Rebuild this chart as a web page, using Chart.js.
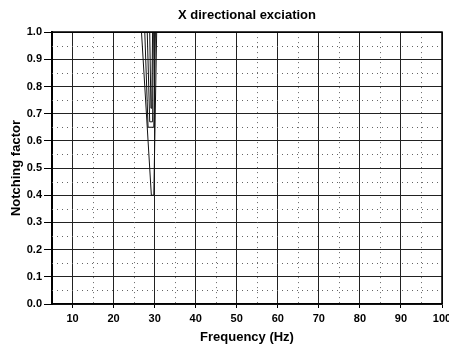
<!DOCTYPE html>
<html>
<head>
<meta charset="utf-8">
<script src="https://cdn.jsdelivr.net/npm/chart.js@4/dist/chart.umd.min.js"></script>
<style>
    html, body { margin: 0; padding: 0; background: #fff; }
    #wrap { width: 449px; height: 350px; }
</style>
</head>
<body>
<div id="wrap"><canvas id="notchChart"></canvas></div>
<script>
// Notch curves (frequency in Hz, notching factor)
const freqA = [5, 26.8, 29.2, 29.8, 30.5, 100];
const notchA = [1.0, 1.0, 0.40, 0.40, 1.0, 1.0];
const freqB = [5, 27.6, 28.4, 29.8, 30.2, 100];
const notchB = [1.0, 1.0, 0.65, 0.65, 1.0, 1.0];
const freqC = [5, 28.2, 28.8, 29.5, 29.7, 100];
const notchC = [1.0, 1.0, 0.67, 0.67, 1.0, 1.0];
const freqD = [5, 28.8, 29.1, 29.3, 29.5, 100];
const notchD = [1.0, 1.0, 0.72, 0.72, 1.0, 1.0];

const xTicks = [10, 20, 30, 40, 50, 60, 70, 80, 90, 100];
const yTicks = [0, 0.1, 0.2, 0.3, 0.4, 0.5, 0.6, 0.7, 0.8, 0.9, 1.0];
const xMinor = [15, 25, 35, 45, 55, 65, 75, 85, 95];
const yMinor = [0.05, 0.15, 0.25, 0.35, 0.45, 0.55, 0.65, 0.75, 0.85, 0.95];

function toPoints(xs, ys) {
    return xs.map((x, i) => ({ x: x, y: ys[i] }));
}

function curve(xs, ys) {
    return {
        data: toPoints(xs, ys),
        borderColor: '#111',
        borderWidth: 1,
        pointRadius: 0,
        fill: false,
        tension: 0
    };
}

// dotted minor grid and the box round the plot
const frameGrid = {
    id: 'frameGrid',
    beforeDatasetsDraw(chart) {
        const ctx = chart.ctx;
        const area = chart.chartArea;
        const xs = chart.scales.x, ys = chart.scales.y;
        ctx.save();
        ctx.strokeStyle = '#666';
        ctx.lineWidth = 1;
        ctx.setLineDash([1, 4]);
        xMinor.forEach(v => {
            const px = Math.round(xs.getPixelForValue(v)) + 0.5;
            ctx.beginPath();
            ctx.moveTo(px, area.top);
            ctx.lineTo(px, area.bottom);
            ctx.stroke();
        });
        yMinor.forEach(v => {
            const py = Math.round(ys.getPixelForValue(v)) + 0.5;
            ctx.beginPath();
            ctx.moveTo(area.left, py);
            ctx.lineTo(area.right, py);
            ctx.stroke();
        });
        ctx.restore();
    },
    afterDraw(chart) {
        const ctx = chart.ctx;
        const area = chart.chartArea;
        ctx.save();
        ctx.strokeStyle = '#000';
        ctx.lineWidth = 1.5;
        ctx.beginPath();
        ctx.moveTo(area.left, area.top);
        ctx.lineTo(area.right, area.top);
        ctx.lineTo(area.right, area.bottom);
        ctx.stroke();
        ctx.restore();
    }
};

const tickFont = { family: 'Liberation Sans', size: 11, weight: 'bold' };
const titleFont = { family: 'Liberation Sans', size: 13, weight: 'bold' };

new Chart(document.getElementById('notchChart'), {
    type: 'line',
    data: {
        datasets: [
            curve(freqA, notchA),
            curve(freqB, notchB),
            curve(freqC, notchC),
            curve(freqD, notchD)
        ]
    },
    options: {
        responsive: true,
        maintainAspectRatio: false,
        animation: false,
        layout: { padding: { right: 7 } },
        plugins: {
            legend: { display: false },
            tooltip: { enabled: false },
            title: {
                display: true,
                text: 'X directional exciation',
                color: '#000',
                font: titleFont,
                fullSize: false,
                padding: { top: 8, bottom: 8.5 }
            }
        },
        scales: {
            x: {
                type: 'linear',
                min: 5,
                max: 100,
                afterBuildTicks: scale => {
                    scale.ticks = xTicks.map(v => ({ value: v }));
                },
                afterFit: scale => {
                    scale.height = 46;
                    scale.paddingLeft = 0;
                    scale.paddingRight = 0;
                },
                ticks: {
                    color: '#000',
                    font: tickFont,
                    padding: 4,
                    maxRotation: 0,
                    autoSkip: false
                },
                grid: {
                    color: '#222',
                    lineWidth: 1,
                    tickLength: 4,
                    tickColor: '#000'
                },
                border: { color: '#000', width: 1.5 },
                title: {
                    display: true,
                    text: 'Frequency (Hz)',
                    color: '#000',
                    font: titleFont,
                    padding: { top: 0, bottom: 5 }
                }
            },
            y: {
                min: 0,
                max: 1,
                afterBuildTicks: scale => {
                    scale.ticks = yTicks.map(v => ({ value: v }));
                },
                afterFit: scale => {
                    scale.width = 52;
                },
                ticks: {
                    color: '#000',
                    font: tickFont,
                    padding: 2,
                    callback: v => v.toFixed(1)
                },
                grid: {
                    color: '#222',
                    lineWidth: 1,
                    tickLength: 8,
                    tickColor: '#000'
                },
                border: { color: '#000', width: 2 },
                title: {
                    display: true,
                    text: 'Notching factor',
                    color: '#000',
                    font: titleFont,
                    padding: { top: 9, bottom: 0 }
                }
            }
        }
    },
    plugins: [frameGrid]
});
</script>
</body>
</html>
